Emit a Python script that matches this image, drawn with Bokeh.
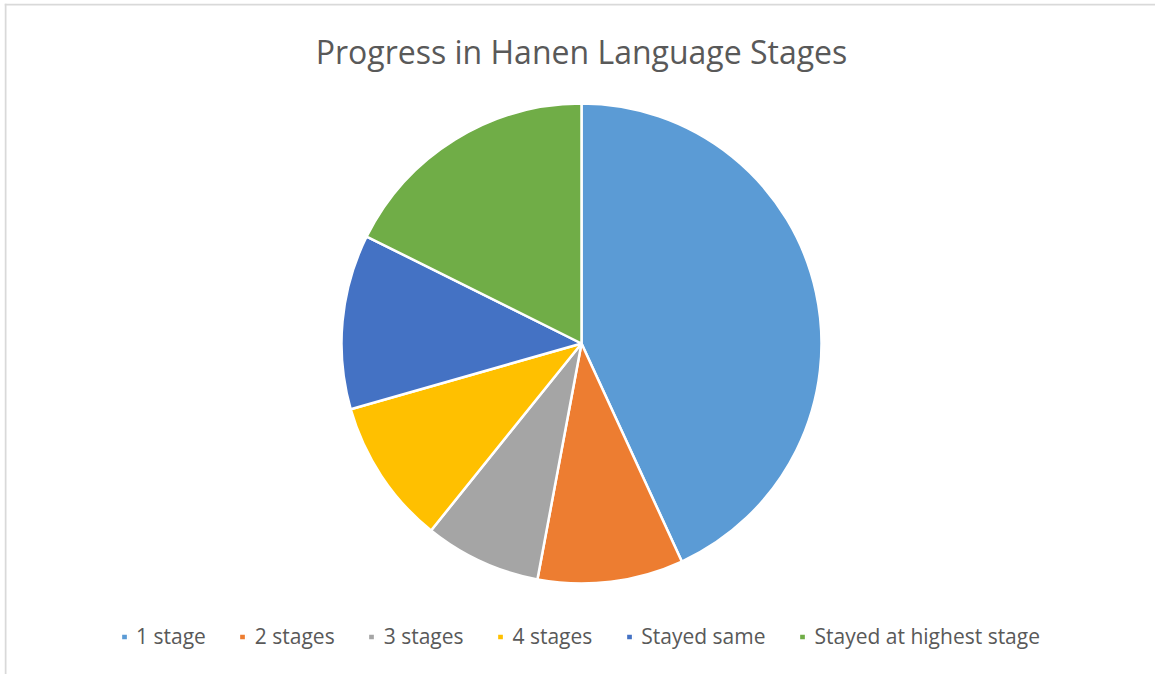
import math
from bokeh.plotting import figure
from bokeh.models import Legend, LegendItem, ColumnDataSource, Range1d, Label, Span
from bokeh.embed import file_html
from bokeh.resources import INLINE

# ---- data ----
categories = ["1 stage", "2 stages", "3 stages", "4 stages", "Stayed same", "Stayed at highest stage"]
counts = [22, 5, 4, 5, 6, 9]
colors = ["#5B9BD5", "#ED7D31", "#A5A5A5", "#FFC000", "#4472C4", "#70AD47"]
title_text = "Progress in Hanen Language Stages"

W, H = 1155, 674
BL, BT = 4, 3
FW, FH = W - BL, H - BT
CX, CY, R = 577, 331, 240

p = figure(width=W, height=H, x_range=Range1d(0, FW), y_range=Range1d(0, FH),
           output_backend="svg", toolbar_location=None,
           min_border_left=BL, min_border_top=BT, min_border_right=0, min_border_bottom=0)
p.axis.visible = False
p.grid.visible = False
p.outline_line_color = None
p.background_fill_color = "white"

# chart-area border (left and top edges visible in the reference)
p.add_layout(Span(location=1, dimension="height", line_color="#D9D9D9", line_width=2))
p.add_layout(Span(location=FH - 1, dimension="width", line_color="#D9D9D9", line_width=2))

total = float(sum(counts))
cum = 0.0
items = []
for i, (cat, c, col) in enumerate(zip(categories, counts, colors)):
    start = math.pi / 2 - 2 * math.pi * cum / total
    cum += c
    end = math.pi / 2 - 2 * math.pi * cum / total
    src = ColumnDataSource(dict(x=[CX], y=[CY], s=[start], e=[end]))
    r = p.wedge(x="x", y="y", radius=R, start_angle="s", end_angle="e", direction="clock",
                fill_color=col, line_color="white", line_width=2.5, source=src)
    items.append(LegendItem(label=cat, renderers=[r]))

p.add_layout(Label(x=577, y=623, text=title_text,
                   text_align="center", text_baseline="alphabetic",
                   text_font="Open Sans", text_font_size="32px",
                   text_color="#595959"))

legend = Legend(items=items, orientation="horizontal", location="bottom_center",
                glyph_width=9, glyph_height=9, label_standoff=8, spacing=32,
                padding=0, margin=24, border_line_alpha=0, background_fill_alpha=0,
                label_text_font="Open Sans", label_text_font_size="21px",
                label_text_color="#595959")
p.add_layout(legend, "center")

open("out.html", "w").write(file_html(p, INLINE))
